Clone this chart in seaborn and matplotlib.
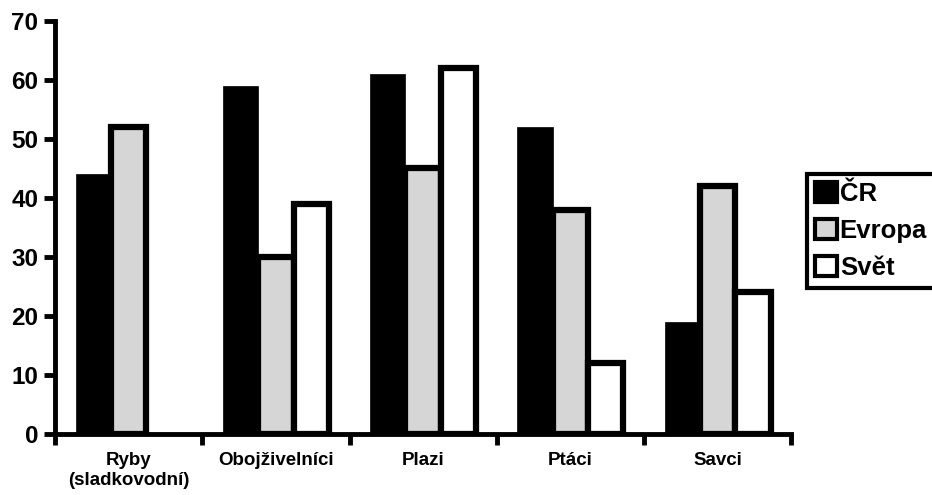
import numpy as np
import pandas as pd
import matplotlib
matplotlib.use("Agg")
import matplotlib.pyplot as plt
import seaborn as sns
from matplotlib.patches import Patch

categories = ["Ryby\n(sladkovodní)", "Obojživelníci", "Plazi", "Ptáci", "Savci"]
regions = ["ČR", "Evropa", "Svět"]
cr = [44, 59, 61, 52, 19]
evropa = [52, 30, 45, 38, 42]
svet = [np.nan, 39, 62, 12, 24]
yticks = [0, 10, 20, 30, 40, 50, 60, 70]

colors = ["#000000", "#d6d6d6", "#ffffff"]

sns.set_theme(style="white")
plt.rcParams["font.family"] = ["Liberation Sans", "DejaVu Sans"]
plt.rcParams["font.weight"] = "bold"
plt.rcParams["text.color"] = "black"
plt.rcParams["xtick.color"] = "black"
plt.rcParams["ytick.color"] = "black"

rows = []
for reg, vals in zip(regions, [cr, evropa, svet]):
    for c, v in zip(categories, vals):
        rows.append({"cat": c, "reg": reg, "val": v})
df = pd.DataFrame(rows)

fig = plt.figure(figsize=(9.32, 4.95), dpi=100)
ax = fig.add_axes([0.059, 0.123, 0.79, 0.835])

sns.barplot(data=df, x="cat", y="val", hue="reg", order=categories,
            hue_order=regions, palette=colors, width=0.72, gap=0,
            saturation=1, ax=ax, legend=False, err_kws={"linewidth": 0})

for container, reg in zip(ax.containers, regions):
    for bar in container:
        bar.set_edgecolor("black")
        if reg == "ČR":
            bar.set_linewidth(0.5)
        else:
            bar.set_linewidth(4.5)
            bar.set_joinstyle("miter")

ax.set_ylim(0, 70)
ax.set_xlim(-0.5, 4.5)
ax.set_yticks(yticks)
ax.set_yticklabels([str(t) for t in yticks], fontsize=17.5, fontweight="bold", color="black")
ax.set_xticks(range(len(categories)))
ax.set_xticklabels(categories, fontsize=13.5, fontweight="bold", color="black")
ax.set_xticks(np.arange(-0.5, 5, 1), minor=True)
ax.tick_params(axis="x", which="major", length=0, pad=13)
ax.tick_params(axis="x", which="minor", length=8, width=3.5, direction="out", color="black", bottom=True)
ax.tick_params(axis="y", which="major", length=8, width=3.5, direction="out", color="black", left=True, pad=4)
ax.set_xlabel("")
ax.set_ylabel("")
for s in ["top", "right"]:
    ax.spines[s].set_visible(False)
for s in ["left", "bottom"]:
    ax.spines[s].set_linewidth(3.5)
    ax.spines[s].set_color("black")

handles = [Patch(facecolor=colors[i], edgecolor="black", linewidth=3) for i in range(3)]
leg = fig.legend(handles, regions, loc="upper left", bbox_to_anchor=(0.866, 0.648),
                 prop={"size": 18.5, "weight": "bold"}, handlelength=0.85, handleheight=0.85,
                 handletextpad=0.12, borderpad=0.3, labelspacing=0.5, borderaxespad=0,
                 frameon=True, fancybox=False, framealpha=1)
leg.get_frame().set_edgecolor("black")
leg.get_frame().set_linewidth(3)
for t in leg.get_texts():
    t.set_color("black")

fig.savefig("out.png", dpi=100)
